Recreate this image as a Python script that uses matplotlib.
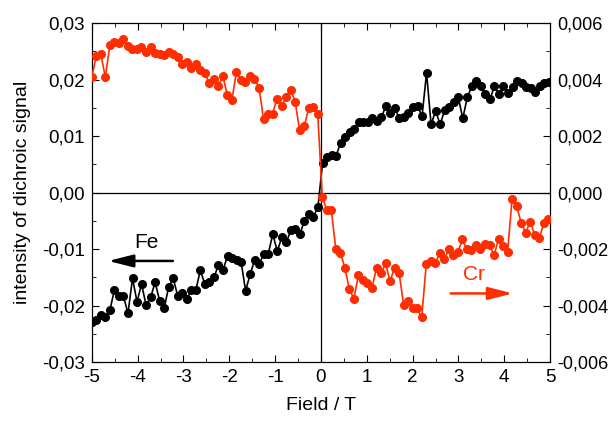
import numpy as np
import matplotlib.pyplot as plt
from matplotlib.ticker import MultipleLocator, FuncFormatter

plt.rcParams['font.family'] = ['Liberation Sans', 'DejaVu Sans']

# Fe signal (left axis), field sweep from -5 T to 5 T
fe_signal = [
    -0.02287, -0.02257, -0.02168, -0.02209, -0.0208, -0.01726, -0.01832, -0.01832,
    -0.02139, -0.01519, -0.01932, -0.0162, -0.01991, -0.01855, -0.0159, -0.01915,
    -0.0205, -0.01667, -0.01519, -0.01832, -0.01785, -0.01885, -0.01726, -0.01726,
    -0.01372, -0.01625, -0.01578, -0.01501, -0.01283, -0.01372, -0.01124, -0.01165,
    -0.01195, -0.01225, -0.01738, -0.01448, -0.01195, -0.01265, -0.01088, -0.01088,
    -0.00735, -0.01035, -0.00793, -0.00881, -0.00664, -0.00652, -0.00735, -0.00499,
    -0.00381, -0.00428, -0.00251,
    0.00517, 0.00634, 0.00664, 0.00651, 0.00882, 0.00988, 0.01065, 0.01119,
    0.01253, 0.01242, 0.01242, 0.01313, 0.01265, 0.01331, 0.01531, 0.01402,
    0.0149, 0.01313, 0.01342, 0.01402, 0.01508, 0.01531, 0.01354, 0.0212,
    0.01207, 0.01448, 0.01207, 0.0146, 0.01508, 0.01607, 0.01696, 0.01313,
    0.01685, 0.01885, 0.01973, 0.01885, 0.01743, 0.0165, 0.01885, 0.01743,
    0.01885, 0.01767, 0.01873, 0.01979, 0.01943, 0.01873, 0.01844, 0.01784,
    0.01885, 0.01933, 0.01961,
]
fe_field = np.linspace(-5.0, 4.97, len(fe_signal))

# Cr signal (right axis)
cr_signal = [
    0.0041, 0.00483, 0.0049, 0.00408, 0.00522, 0.00534, 0.00528, 0.00543,
    0.0052, 0.0051, 0.00507, 0.00514, 0.00498, 0.00516, 0.00493, 0.0049,
    0.00487, 0.00498, 0.0049, 0.00479, 0.00457, 0.00463, 0.0044, 0.00454,
    0.00434, 0.00422, 0.00389, 0.00401, 0.00377, 0.00412, 0.00345, 0.00327,
    0.00428, 0.00398, 0.00392, 0.00412, 0.00404, 0.00372, 0.0026, 0.00277,
    0.0028, 0.00333, 0.00306, 0.00339, 0.00365, 0.00321, 0.00221, 0.00235,
    0.00298, 0.00304, 0.00277,
    -0.00015, -0.00062, -0.00062, -0.00201, -0.00213, -0.00266, -0.00343, -0.00375,
    -0.00292, -0.0031, -0.00319, -0.00337, -0.00266, -0.00286, -0.00251, -0.00313,
    -0.00266, -0.00284, -0.00398, -0.00383, -0.0041, -0.0041, -0.00442, -0.00254,
    -0.00242, -0.00248, -0.00215, -0.00236, -0.00201, -0.00221, -0.0021, -0.00166,
    -0.00201, -0.00204, -0.00186, -0.00198, -0.00183, -0.00186, -0.00221, -0.00166,
    -0.00189, -0.0021, -0.00021, -0.00048, -0.00107, -0.00142, -0.00103, -0.0015,
    -0.00162, -0.00109, -0.00095,
]
cr_field = np.linspace(-5.0, 4.96, len(cr_signal))

red = '#ff2d00'


def comma_fmt(decimals):
    def f(v, pos):
        if abs(v) < 1e-12:
            v = 0.0
        return f"{v:.{decimals}f}".replace('.', ',')
    return FuncFormatter(f)


fig = plt.figure(figsize=(6.16, 4.21), dpi=100)
ax = fig.add_axes([0.149, 0.140, 0.744, 0.805])
ax2 = ax.twinx()

ax.axhline(0, color='black', lw=0.9, zorder=1)
ax.axvline(0, color='black', lw=0.9, zorder=1)

ax.plot(fe_field, fe_signal, color='black', lw=1.2, marker='o', ms=5.5, zorder=3)
ax2.plot(cr_field, cr_signal, color=red, lw=1.2, marker='o', ms=5.5, zorder=3)

ax.set_xlim(-5, 5)
ax.set_ylim(-0.03, 0.03)
ax2.set_ylim(-0.006, 0.006)

ax.xaxis.set_major_locator(MultipleLocator(1))
ax.xaxis.set_minor_locator(MultipleLocator(0.5))
ax.yaxis.set_major_locator(MultipleLocator(0.01))
ax.yaxis.set_minor_locator(MultipleLocator(0.005))
ax2.yaxis.set_major_locator(MultipleLocator(0.002))
ax2.yaxis.set_minor_locator(MultipleLocator(0.001))

ax.xaxis.set_major_formatter(FuncFormatter(lambda v, p: f"{v:.0f}"))
ax.yaxis.set_major_formatter(comma_fmt(2))
ax2.yaxis.set_major_formatter(comma_fmt(3))

ax.tick_params(axis='x', which='both', direction='in', top=True, labelsize=13.5, pad=5)
ax.tick_params(axis='y', which='both', direction='in', right=False, labelsize=13.5, pad=5)
ax2.tick_params(axis='y', which='both', direction='in', labelsize=13, pad=5)
for a in (ax, ax2):
    a.tick_params(which='major', length=5)
    a.tick_params(which='minor', length=3)

ax.set_xlabel('Field / T', fontsize=14, labelpad=8)
ax.set_ylabel('intensity of dichroic signal', fontsize=14, labelpad=8)

# Fe label and arrow (left axis units)
ax.text(-3.81, -0.0088, 'Fe', fontsize=15, ha='center', va='center')
ax.annotate('', xy=(-4.7, -0.0121), xytext=(-3.17, -0.0121),
            arrowprops=dict(arrowstyle='-|>,head_length=1.5,head_width=0.38',
                            color='black', lw=1.8))

# Cr label and arrow (right axis units)
ax2.text(3.34, -0.0029, 'Cr', fontsize=15, ha='center', va='center', color=red)
ax2.annotate('', xy=(4.25, -0.00357), xytext=(2.77, -0.00357),
             arrowprops=dict(arrowstyle='-|>,head_length=1.5,head_width=0.38',
                             color=red, lw=1.8))

fig.savefig('out.png', dpi=100)
